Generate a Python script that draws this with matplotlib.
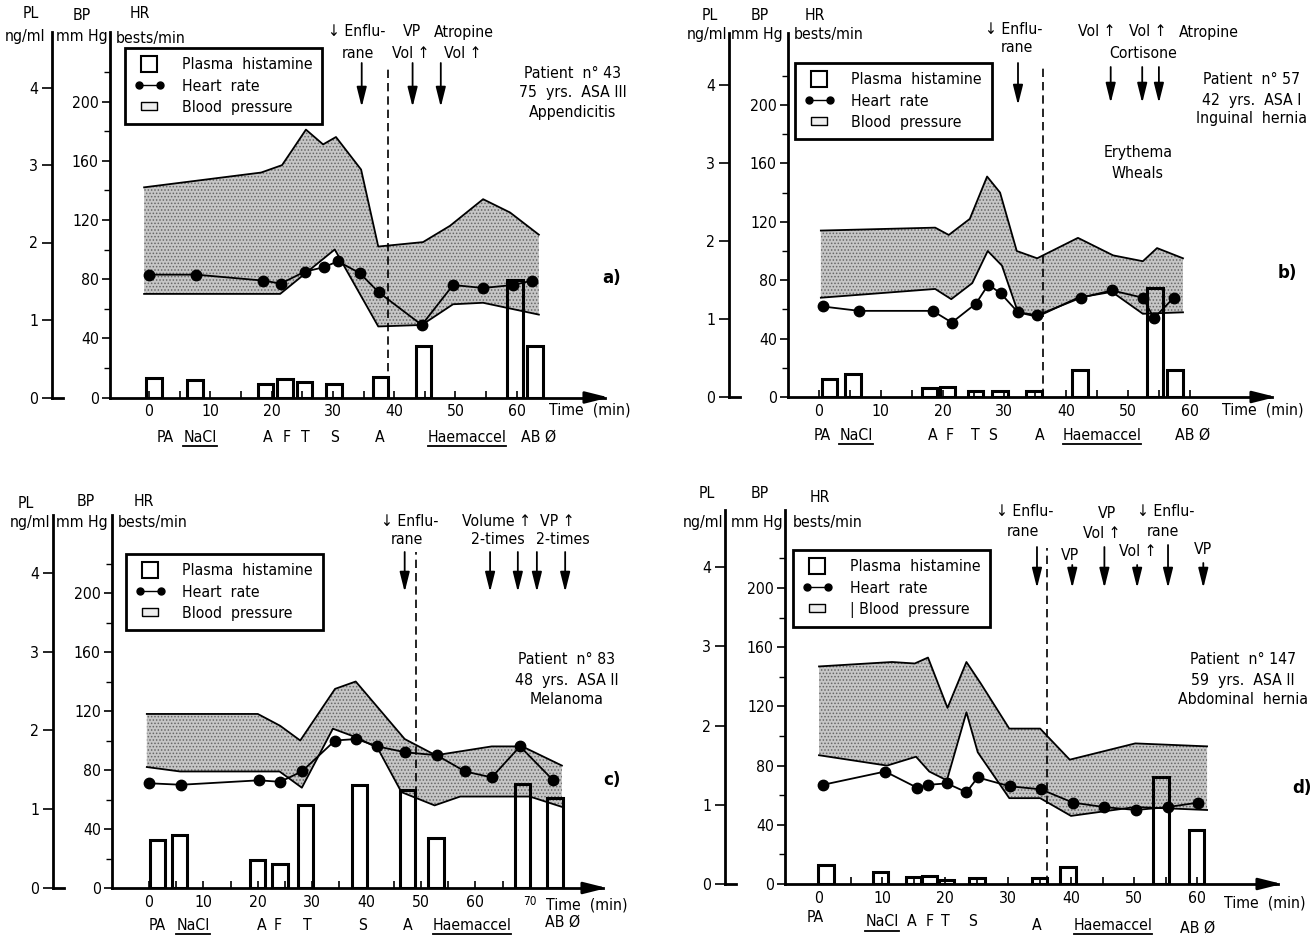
import numpy as np
import matplotlib
matplotlib.use("Agg")
import matplotlib.pyplot as plt
from matplotlib import font_manager
from matplotlib.lines import Line2D
from matplotlib.legend_handler import HandlerLine2D

# a narrow sans face, like the condensed type of the original
names = {f.name for f in font_manager.fontManager.ttflist}
condensed = [f for f in font_manager.fontManager.ttflist
             if f.name == 'DejaVu Sans' and 'ondensed' in str(f.stretch) + f.fname]
if 'Liberation Sans Narrow' in names:
    plt.rcParams['font.family'] = ['Liberation Sans Narrow', 'DejaVu Sans']
    FS = 12.5
elif condensed:
    plt.rcParams['font.family'] = ['DejaVu Sans']
    plt.rcParams['font.stretch'] = 'condensed'
    FS = 11.3
else:
    plt.rcParams['font.family'] = ['Liberation Sans', 'DejaVu Sans']
    FS = 11
plt.rcParams['hatch.linewidth'] = 0.7

W, H = 1315, 936

# ---------------- data (time in min, BP/HR in mmHg or beats/min, PL in ng/ml)
# a) patient 43
A_SYS_T = [-0.8, 18.3, 21.7, 23.5, 25.6, 28.4, 30.5, 34.6, 37.4, 44.7, 49.1, 54.5, 58.9, 63.6]
A_SYS = [142, 152, 157, 168, 181, 171, 176, 154, 102, 105, 116, 134, 125, 110]
A_DIA_T = [-0.8, 21.4, 30.3, 37.4, 44.5, 49.6, 54.5, 63.6]
A_DIA = [70, 70, 100, 48, 49, 63, 64, 56]
A_HR_T = [0, 7.7, 18.6, 21.5, 25.4, 28.5, 30.8, 34.4, 37.5, 44.5, 49.6, 54.5, 59.4, 62.5]
A_HR = [83, 83, 79, 77, 85, 88, 92, 84, 71, 49, 76, 74, 76, 79]
A_PL_T = [0.8, 7.5, 19.0, 22.2, 25.4, 30.2, 37.8, 44.8, 59.7, 63.0]
A_PL = [0.25, 0.23, 0.18, 0.24, 0.20, 0.18, 0.26, 0.67, 1.51, 0.67]
A_ARROW_T = [34.7, 43.0, 47.6]
A_INDUCTION_T = 39.0

# b) patient 57
B_SYS_T = [0.3, 18.8, 21.0, 24.4, 27.2, 29.3, 32.0, 35.3, 41.9, 47.6, 52.4, 54.7, 58.9]
B_SYS = [114, 116, 111, 122, 151, 140, 100, 95, 109, 97, 93, 102, 95]
B_DIA_T = [0.3, 18.8, 21.4, 24.8, 27.3, 29.6, 32.2, 35.3, 41.9, 47.4, 52.4, 58.9]
B_DIA = [68, 74, 67, 78, 100, 90, 58, 55, 68, 72, 57, 58]
B_HR_T = [0.6, 6.5, 18.4, 21.5, 25.4, 27.4, 29.4, 32.2, 35.3, 42.4, 47.4, 52.4, 54.2, 57.4]
B_HR = [62, 59, 59, 51, 64, 77, 71, 58, 56, 68, 73, 68, 54, 68]
B_PL_T = [1.7, 5.5, 17.9, 20.8, 25.3, 29.3, 34.8, 42.2, 54.4, 57.6]
B_PL = [0.23, 0.29, 0.12, 0.13, 0.08, 0.08, 0.08, 0.35, 1.40, 0.35]
B_ARROW_T = [32.2, 47.2, 52.3, 55.0]
B_INDUCTION_T = 36.2

# c) patient 83
C_SYS_T = [-0.4, 20.0, 24.1, 27.8, 34.2, 38.0, 47.0, 52.7, 63.0, 68.6, 75.9]
C_SYS = [118, 118, 110, 100, 135, 140, 101, 90, 96, 96, 83]
C_DIA_T = [-0.4, 5.7, 24.0, 28.1, 33.8, 38.2, 42.0, 46.4, 52.5, 57.2, 70.0, 75.9]
C_DIA = [82, 79, 79, 68, 108, 102, 95, 65, 56, 62, 62, 55]
C_HR_T = [0, 5.9, 20.2, 24.1, 28.1, 34.2, 38.1, 42.0, 47.1, 52.9, 58.1, 63.0, 68.2, 74.3]
C_HR = [71, 70, 73, 72, 79, 100, 101, 96, 92, 90, 79, 75, 96, 73]
C_PL_T = [1.6, 5.6, 19.9, 24.1, 28.8, 38.7, 47.5, 52.8, 68.7, 74.6]
C_PL = [0.61, 0.67, 0.36, 0.30, 1.05, 1.31, 1.24, 0.63, 1.32, 1.14]
C_ARROW_T = [47.0, 62.7, 67.8, 71.3, 76.5]
C_INDUCTION_T = 49.1

# d) patient 147
D_SYS_T = [0, 11.6, 15.2, 17.3, 20.4, 23.4, 25.6, 30.2, 35.1, 39.8, 50.2, 61.6]
D_SYS = [147, 150, 149, 153, 119, 150, 136, 105, 105, 84, 95, 93]
D_DIA_T = [0, 10.8, 15.4, 17.5, 20.3, 23.4, 25.2, 30.2, 35.1, 40.0, 50.2, 61.6]
D_DIA = [87, 80, 86, 76, 70, 116, 89, 58, 58, 46, 52, 50]
D_HR_T = [0.6, 10.5, 15.6, 17.3, 20.3, 23.4, 25.2, 30.3, 35.2, 40.3, 45.2, 50.3, 55.4, 60.2]
D_HR = [67, 76, 65, 67, 68, 62, 72, 66, 64, 55, 52, 50, 52, 55]
D_PL_T = [1.1, 9.8, 15.0, 17.5, 20.2, 25.1, 35.0, 39.5, 54.3, 59.9]
D_PL = [0.24, 0.15, 0.09, 0.10, 0.05, 0.08, 0.08, 0.21, 1.35, 0.68]
D_ARROW_T = [34.6, 40.2, 45.3, 50.5, 55.4, 61.0]
D_INDUCTION_T = 36.2

LEGEND_LABELS = ['Plasma  histamine', 'Heart  rate', 'Blood  pressure']

# ---------------- layout (pixels of the 1315x936 canvas)
GEOM = {
    'a': dict(pl_x=52, hr_x=110, x0=149, ppm=6.13, y0=397.5, bp_ppu=1.48, pl_ppu=77.5, top=32, right=605,
              tmax=60, arrow_y=[(63, 107)] * 3, dash_top=67, legend=(125, 48)),
    'b': dict(pl_x=729, hr_x=788, x0=819, ppm=6.18, y0=397, bp_ppu=1.46, pl_ppu=78, top=33, right=1272,
              tmax=60, arrow_y=[(63, 105), (67, 103), (67, 103), (67, 103)], dash_top=65, legend=(795, 63)),
    'c': dict(pl_x=53, hr_x=112, x0=149, ppm=5.44, y0=888, bp_ppu=1.475, pl_ppu=78.8, top=515, right=603,
              tmax=70, arrow_y=[(552, 592)] * 5, dash_top=552, legend=(126, 554)),
    'd': dict(pl_x=725, hr_x=785, x0=819, ppm=6.3, y0=884, bp_ppu=1.48, pl_ppu=79.2, top=510, right=1278,
              tmax=60, arrow_y=[(547, 588), (565, 588), (547, 588), (565, 588), (545, 588), (563, 588)],
              dash_top=548, legend=(793, 550)),
}

fig = plt.figure(figsize=(W / 100, H / 100), dpi=100)
fig.patch.set_facecolor('white')

underlined = []


def put(x, y, s, ha='center', size=None, under=False, **kw):
    t = fig.text(x / W, 1 - y / H, s, ha=ha, va='center', fontsize=size or FS, **kw)
    if under:
        underlined.append(t)
    return t


def panel(key, sys_t, sys, dia_t, dia, hr_t, hr, pl_t, pl, arrow_t, dash_t, bp_label):
    g = GEOM[key]
    bottom = 1 - g['y0'] / H
    height = (g['y0'] - g['top']) / H

    def tm(px):
        return (px - g['x0']) / g['ppm']

    def bp(py):
        return (g['y0'] - py) / g['bp_ppu']

    ax = fig.add_axes([g['hr_x'] / W, bottom, (g['right'] - g['hr_x']) / W, height])
    ax.set_xlim(tm(g['hr_x']), tm(g['right']))
    ax.set_ylim(0, bp(g['top']))
    ax.patch.set_visible(False)
    for s in ['top', 'right']:
        ax.spines[s].set_visible(False)
    ax.spines['left'].set_linewidth(2)
    ax.spines['bottom'].set_linewidth(2)
    ax.set_yticks(np.arange(0, 201, 40))
    ax.set_yticks(np.arange(20, 221, 40), minor=True)
    ax.tick_params(axis='y', which='major', direction='out', length=6, width=1.2, pad=2, labelsize=FS)
    ax.tick_params(axis='y', which='minor', direction='out', length=4, width=1)
    ax.set_xticks(np.arange(0, g['tmax'] + 1, 10))
    ax.set_xticks(np.arange(5, g['tmax'] + 1, 10), minor=True)
    ax.tick_params(axis='x', which='both', direction='in', length=5, width=1.2, pad=5, labelsize=FS)

    # blood pressure band
    bx = np.r_[sys_t, dia_t[::-1]]
    by = np.r_[sys, dia[::-1]]
    ax.fill(bx, by, facecolor='#c6c6c6', edgecolor='#666666', hatch='.....', linewidth=0, zorder=1)
    ax.plot(sys_t, sys, color='k', lw=1.3, zorder=2)
    ax.plot(dia_t, dia, color='k', lw=1.3, zorder=2)
    # heart rate
    ax.plot(hr_t, hr, '-o', color='k', lw=1.3, ms=7.5, zorder=4)

    # induction line
    ax.plot([dash_t, dash_t], [0, bp(g['dash_top'])], color='k', lw=1.2, ls=(0, (5, 3)), zorder=3)
    # drug / volume arrows
    for t, (ytop, ybot) in zip(arrow_t, g['arrow_y']):
        ax.annotate('', xy=(t, bp(ybot)), xytext=(t, bp(ytop)), annotation_clip=False,
                    arrowprops=dict(arrowstyle='-|>,head_width=0.3,head_length=1.2', color='k',
                                    lw=1.3, shrinkA=0, shrinkB=0))
    # time axis arrow head
    ax.annotate('', xy=(tm(g['right'] + 4), 0), xytext=(tm(g['right'] - 10), 0), annotation_clip=False,
                arrowprops=dict(arrowstyle='-|>,head_width=0.35,head_length=1.4', color='k',
                                lw=2, shrinkA=0, shrinkB=0))

    # plasma histamine axis
    axp = fig.add_axes([g['pl_x'] / W, bottom, (g['right'] - g['pl_x']) / W, height])
    axp.set_xlim(tm(g['pl_x']), tm(g['right']))
    axp.set_ylim(0, (g['y0'] - g['top']) / g['pl_ppu'])
    axp.patch.set_visible(False)
    for s in ['top', 'right', 'bottom']:
        axp.spines[s].set_visible(False)
    axp.spines['left'].set_linewidth(2)
    axp.set_xticks([])
    axp.set_yticks([0, 1, 2, 3, 4])
    axp.tick_params(axis='y', direction='out', length=7, width=1.2, pad=3, labelsize=FS)
    axp.plot([0, 11 / (g['right'] - g['pl_x'])], [0, 0], color='k', lw=2,
             transform=axp.transAxes, clip_on=False)
    axp.bar(pl_t, pl, width=15.5 / g['ppm'], fill=False, edgecolor='k', linewidth=2.2, zorder=5)

    # legend
    h_pl = Line2D([], [], ls='none', marker='s', ms=12, mfc='white', mec='k', mew=1.5)
    h_hr = Line2D([], [], ls='-', color='k', lw=1, marker='o', ms=5)
    rect = [(-1, -0.5), (1, -0.5), (1, 0.5), (-1, 0.5), (-1, -0.5)]
    h_bp = Line2D([], [], ls='none', marker=rect, ms=12, mfc='#eeeeee', mec='k', mew=1)
    lx, ly = g['legend']
    leg = fig.legend([h_pl, h_hr, h_bp], [LEGEND_LABELS[0], LEGEND_LABELS[1], bp_label],
                     loc='upper left', bbox_to_anchor=(lx / W, 1 - ly / H), bbox_transform=fig.transFigure,
                     frameon=True, fancybox=False, edgecolor='k', framealpha=1, fontsize=FS,
                     handlelength=1.9, handletextpad=1.1, labelspacing=0.4, borderpad=0.6,
                     borderaxespad=0, numpoints=2,
                     handler_map={h_pl: HandlerLine2D(numpoints=1), h_bp: HandlerLine2D(numpoints=1)})
    leg.get_frame().set_linewidth(2)
    return ax


ax_a = panel('a', A_SYS_T, A_SYS, A_DIA_T, A_DIA, A_HR_T, A_HR, A_PL_T, A_PL, A_ARROW_T, A_INDUCTION_T,
             LEGEND_LABELS[2])
ax_b = panel('b', B_SYS_T, B_SYS, B_DIA_T, B_DIA, B_HR_T, B_HR, B_PL_T, B_PL, B_ARROW_T, B_INDUCTION_T,
             LEGEND_LABELS[2])
ax_c = panel('c', C_SYS_T, C_SYS, C_DIA_T, C_DIA, C_HR_T, C_HR, C_PL_T, C_PL, C_ARROW_T, C_INDUCTION_T,
             LEGEND_LABELS[2])
ax_d = panel('d', D_SYS_T, D_SYS, D_DIA_T, D_DIA, D_HR_T, D_HR, D_PL_T, D_PL, D_ARROW_T, D_INDUCTION_T,
             '| ' + LEGEND_LABELS[2])

# small "70" label in c)
for lab in ax_c.get_xticklabels():
    if lab.get_text() == '70':
        lab.set_fontsize(8.5)

# ---------------- texts
# a)
put(31, 14, 'PL'); put(25, 37, 'ng/ml'); put(82, 15, 'BP'); put(82, 37, 'mm Hg')
put(140, 14, 'HR'); put(151, 38, 'bests/min')
put(357, 32, '↓ Enflu-'); put(358, 53, 'rane'); put(412, 32, 'VP'); put(411, 53, 'Vol ↑')
put(464, 32, 'Atropine'); put(463, 53, 'Vol ↑')
put(573, 73, 'Patient  n° 43'); put(573, 93, '75  yrs.  ASA III'); put(573, 112, 'Appendicitis')
put(612, 278, 'a)', size=FS + 2, weight='bold')
put(590, 410, 'Time  (min)')
for x, s in [(165, 'PA'), (268, 'A'), (287, 'F'), (305, 'T'), (335, 'S'), (380, 'A'), (539, 'AB Ø')]:
    put(x, 437, s)
put(200, 437, 'NaCl', under=True); put(467, 437, 'Haemaccel', under=True)

# b)
put(710, 15, 'PL'); put(707, 35, 'ng/ml'); put(760, 15, 'BP'); put(757, 35, 'mm Hg')
put(815, 15, 'HR'); put(829, 35, 'bests/min')
put(1014, 30, '↓ Enflu-'); put(1017, 47, 'rane')
put(1097, 32, 'Vol ↑'); put(1148, 32, 'Vol ↑'); put(1209, 32, 'Atropine'); put(1143, 54, 'Cortisone')
put(1252, 80, 'Patient  n° 57'); put(1252, 100, '42  yrs.  ASA I'); put(1252, 118, 'Inguinal  hernia')
put(1138, 153, 'Erythema'); put(1138, 173, 'Wheals')
put(1287, 273, 'b)', size=FS + 2, weight='bold')
put(1263, 410, 'Time  (min)')
for x, s in [(822, 'PA'), (933, 'A'), (950, 'F'), (975, 'T'), (993, 'S'), (1040, 'A'), (1193, 'AB Ø')]:
    put(x, 435, s)
put(856, 435, 'NaCl', under=True); put(1102, 435, 'Haemaccel', under=True)

# c)
put(26, 503, 'PL'); put(30, 523, 'ng/ml'); put(86, 502, 'BP'); put(82, 523, 'mm Hg')
put(144, 502, 'HR'); put(153, 523, 'bests/min')
put(410, 522, '↓ Enflu-'); put(407, 540, 'rane')
put(496, 522, 'Volume ↑'); put(557, 522, 'VP ↑'); put(498, 540, '2-times'); put(563, 540, '2-times')
put(567, 660, 'Patient  n° 83'); put(567, 680, '48  yrs.  ASA II'); put(567, 700, 'Melanoma')
put(612, 780, 'c)', size=FS + 2, weight='bold')
put(587, 905, 'Time  (min)')
for x, s in [(157, 'PA'), (262, 'A'), (278, 'F'), (307, 'T'), (363, 'S'), (408, 'A')]:
    put(x, 925, s)
put(563, 922, 'AB Ø')
put(193, 925, 'NaCl', under=True); put(472, 925, 'Haemaccel', under=True)

# d)
put(707, 493, 'PL'); put(703, 522, 'ng/ml'); put(760, 493, 'BP'); put(757, 522, 'mm Hg')
put(820, 497, 'HR'); put(828, 522, 'bests/min')
put(1025, 512, '↓ Enflu-'); put(1023, 532, 'rane')
put(1107, 514, 'VP'); put(1102, 533, 'Vol ↑')
put(1166, 512, '↓ Enflu-'); put(1163, 532, 'rane')
put(1070, 555, 'VP'); put(1138, 551, 'Vol ↑'); put(1203, 550, 'VP')
put(1243, 660, 'Patient  n° 147'); put(1243, 680, '59  yrs.  ASA II'); put(1243, 700, 'Abdominal  hernia')
put(1302, 788, 'd)', size=FS + 2, weight='bold')
put(1265, 903, 'Time  (min)')
put(815, 918, 'PA')
for x, s in [(912, 'A'), (930, 'F'), (945, 'T'), (973, 'S')]:
    put(x, 922, s)
put(1037, 925, 'A'); put(1198, 928, 'AB Ø')
put(882, 922, 'NaCl', under=True); put(1113, 925, 'Haemaccel', under=True)

# underline the infusion labels
fig.canvas.draw()
renderer = fig.canvas.get_renderer()
inv = fig.transFigure.inverted()
for t in underlined:
    bb = t.get_window_extent(renderer).transformed(inv)
    yline = bb.y0 - 1.0 / H
    fig.add_artist(Line2D([bb.x0, bb.x1], [yline, yline], color='k', lw=1.3, transform=fig.transFigure))

fig.savefig('out.png', dpi=100, facecolor='white')
